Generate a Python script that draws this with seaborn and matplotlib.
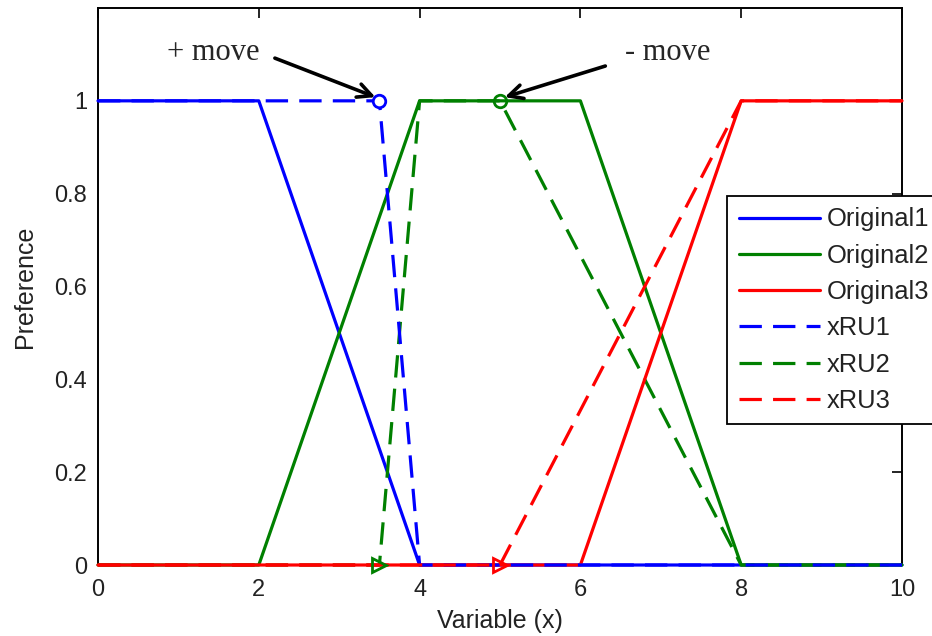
import matplotlib
matplotlib.use("Agg")
import matplotlib.pyplot as plt
import seaborn as sns
import pandas as pd

# ---- data ----
orig1_x = [0, 2, 4, 10]
orig1_y = [1, 1, 0, 0]
orig2_x = [0, 2, 4, 6, 8, 10]
orig2_y = [0, 0, 1, 1, 0, 0]
orig3_x = [0, 6, 8, 10]
orig3_y = [0, 0, 1, 1]
xru1_x = [0, 3.5, 4, 10]
xru1_y = [1, 1, 0, 0]
xru2_x = [0, 3.5, 4, 5, 8, 10]
xru2_y = [0, 0, 1, 1, 0, 0]
xru3_x = [0, 5, 8, 10]
xru3_y = [0, 0, 1, 1]

circle_x = [3.5, 5]
circle_y = [1, 1]
tri_x = [3.5, 5]
tri_y = [0, 0]

x_ticks = [0, 2, 4, 6, 8, 10]
y_ticks = [0, 0.2, 0.4, 0.6, 0.8, 1]
y_ticklabels = ["0", "0.2", "0.4", "0.6", "0.8", "1"]

BLUE = (0, 0, 1)
GREEN = (0, 0.5, 0)
RED = (1, 0, 0)

sns.set_style("white")
plt.rcParams["font.family"] = ["Liberation Sans", "DejaVu Sans"]

fig = plt.figure(figsize=(9.32, 6.36), dpi=100)
ax = fig.add_axes([98 / 932, 1 - 565 / 636, (902 - 98) / 932, (565 - 8) / 636])

lw = 2.3
dash = (0, (7, 3.5))
series = [
    (orig1_x, orig1_y, BLUE, "-", "Original1", 2.0),
    (orig2_x, orig2_y, GREEN, "-", "Original2", 2.1),
    (orig3_x, orig3_y, RED, "-", "Original3", 2.2),
    (xru1_x, xru1_y, BLUE, dash, "xRU1", 2.3),
    (xru2_x, xru2_y, GREEN, dash, "xRU2", 2.05),
    (xru3_x, xru3_y, RED, dash, "xRU3", 2.4),
]
for xs, ys, c, ls, lab, z in series:
    df = pd.DataFrame({"x": xs, "y": ys})
    sns.lineplot(data=df, x="x", y="y", ax=ax, color=c, linestyle=ls,
                 linewidth=lw, label=lab, sort=False, estimator=None,
                 zorder=z, clip_on=False)

# markers
ax.plot(circle_x[:1], circle_y[:1], linestyle="none", marker="o", ms=9,
        mfc="white", mec=BLUE, mew=2, zorder=3, clip_on=False)
ax.plot(circle_x[1:], circle_y[1:], linestyle="none", marker="o", ms=9,
        mfc="none", mec=GREEN, mew=2, zorder=3, clip_on=False)
ax.plot(tri_x[:1], tri_y[:1], linestyle="none", marker=">", ms=10,
        mfc="none", mec=GREEN, mew=2, zorder=3, clip_on=False)
ax.plot(tri_x[1:], tri_y[1:], linestyle="none", marker=">", ms=10,
        mfc="none", mec=RED, mew=2, zorder=3, clip_on=False)

ax.set_xlim(0, 10)
ax.set_ylim(0, 1.2)
ax.set_xticks(x_ticks)
ax.set_xticklabels([str(t) for t in x_ticks])
ax.set_yticks(y_ticks)
ax.set_yticklabels(y_ticklabels)
ax.tick_params(direction="in", length=7, width=1.2, top=True, right=True,
               labelsize=17, colors="black", labelcolor="#222222")
ax.tick_params(axis="x", pad=10)
ax.tick_params(axis="y", pad=8)
for s in ax.spines.values():
    s.set_visible(True)
    s.set_color("black")
    s.set_linewidth(1.4)
    s.set_zorder(1.5)
ax.set_xlabel("Variable (x)", fontsize=18, color="#222222", labelpad=6)
ax.set_ylabel("Preference", fontsize=18, color="#222222", labelpad=12)

# annotations
ax.annotate("", xy=(3.45, 1.008), xytext=(2.2, 1.092),
            arrowprops=dict(arrowstyle="->,head_length=1.0,head_width=0.5",
                            color="black", lw=2.6, shrinkA=0, shrinkB=0))
ax.annotate("", xy=(5.06, 1.008), xytext=(6.31, 1.075),
            arrowprops=dict(arrowstyle="->,head_length=1.0,head_width=0.5",
                            color="black", lw=2.6, shrinkA=0, shrinkB=0))
ax.text(1.43, 1.105, "+ move", ha="center", va="center", fontsize=22,
        family=["Liberation Serif", "DejaVu Serif"])
ax.text(7.09, 1.105, "- move", ha="center", va="center", fontsize=22,
        family=["Liberation Serif", "DejaVu Serif"])

leg = ax.legend(loc="upper left", bbox_to_anchor=(727 / 932, 1 - 196 / 636),
                bbox_transform=fig.transFigure, borderaxespad=0, fontsize=18.4,
                handlelength=3.2, labelspacing=0.48, fancybox=False,
                framealpha=1, edgecolor="black", borderpad=0.45,
                handletextpad=0.25)
leg.get_frame().set_linewidth(1.3)
leg.set_zorder(5)
for t in leg.get_texts():
    t.set_color("#222222")

fig.savefig("out.png", dpi=100, facecolor="white")
